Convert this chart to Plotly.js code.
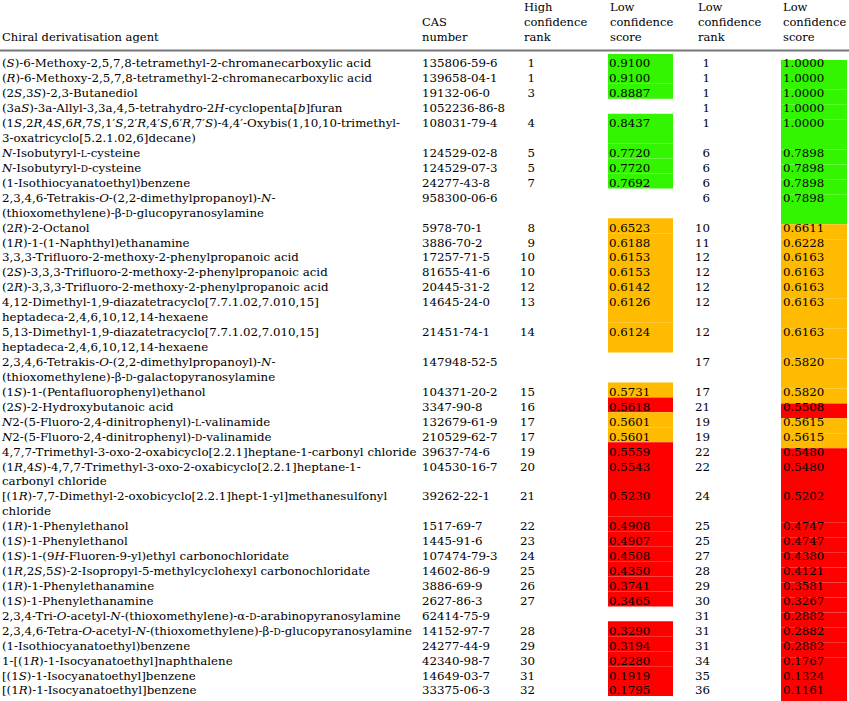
<!DOCTYPE html>
<html lang="en">
<head>
    <meta charset="utf-8">
    <script src="https://cdn.plot.ly/plotly-3.0.1.min.js"></script>
    <title>Chiral derivatisation agents</title>
    <style>
        body { margin: 0; background: #fff; }
        #divTable { width: 849px; height: 701px; }
    </style>
</head>

<body>
    <div id="divTable"></div>
    <script>
        // small caps for L / D
        function sc(s) { return '<span style="font-size:9px">' + s + '</span>'; }

        var headers = ['Chiral derivatisation agent', 'CAS<br>number', 'High<br>confidence<br>rank',
                       'Low<br>confidence<br>score', 'Low<br>confidence<br>rank', 'Low<br>confidence<br>score'];

        var names = [
            '(<i>S</i>)-6-Methoxy-2,5,7,8-tetramethyl-2-chromanecarboxylic acid',
            '(<i>R</i>)-6-Methoxy-2,5,7,8-tetramethyl-2-chromanecarboxylic acid',
            '(2<i>S</i>,3<i>S</i>)-2,3-Butanediol',
            '(3a<i>S</i>)-3a-Allyl-3,3a,4,5-tetrahydro-2<i>H</i>-cyclopenta[<i>b</i>]furan',
            '(1<i>S</i>,2<i>R</i>,4<i>S</i>,6<i>R</i>,7<i>S</i>,1′<i>S</i>,2′<i>R</i>,4′<i>S</i>,6′<i>R</i>,7′<i>S</i>)-4,4′-Oxybis(1,10,10-trimethyl-<br>3-oxatricyclo[5.2.1.02,6]decane)',
            '<i>N</i>-Isobutyryl-' + sc('L') + '-cysteine',
            '<i>N</i>-Isobutyryl-' + sc('D') + '-cysteine',
            '(1-Isothiocyanatoethyl)benzene',
            '2,3,4,6-Tetrakis-<i>O</i>-(2,2-dimethylpropanoyl)-<i>N</i>-<br>(thioxomethylene)-β-' + sc('D') + '-glucopyranosylamine',
            '(2<i>R</i>)-2-Octanol',
            '(1<i>R</i>)-1-(1-Naphthyl)ethanamine',
            '3,3,3-Trifluoro-2-methoxy-2-phenylpropanoic acid',
            '(2<i>S</i>)-3,3,3-Trifluoro-2-methoxy-2-phenylpropanoic acid',
            '(2<i>R</i>)-3,3,3-Trifluoro-2-methoxy-2-phenylpropanoic acid',
            '4,12-Dimethyl-1,9-diazatetracyclo[7.7.1.02,7.010,15]<br>heptadeca-2,4,6,10,12,14-hexaene',
            '5,13-Dimethyl-1,9-diazatetracyclo[7.7.1.02,7.010,15]<br>heptadeca-2,4,6,10,12,14-hexaene',
            '2,3,4,6-Tetrakis-<i>O</i>-(2,2-dimethylpropanoyl)-<i>N</i>-<br>(thioxomethylene)-β-' + sc('D') + '-galactopyranosylamine',
            '(1<i>S</i>)-1-(Pentafluorophenyl)ethanol',
            '(2<i>S</i>)-2-Hydroxybutanoic acid',
            '<i>N</i>2-(5-Fluoro-2,4-dinitrophenyl)-' + sc('L') + '-valinamide',
            '<i>N</i>2-(5-Fluoro-2,4-dinitrophenyl)-' + sc('D') + '-valinamide',
            '4,7,7-Trimethyl-3-oxo-2-oxabicyclo[2.2.1]heptane-1-carbonyl chloride',
            '(1<i>R</i>,4<i>S</i>)-4,7,7-Trimethyl-3-oxo-2-oxabicyclo[2.2.1]heptane-1-<br>carbonyl chloride',
            '[(1<i>R</i>)-7,7-Dimethyl-2-oxobicyclo[2.2.1]hept-1-yl]methanesulfonyl<br>chloride',
            '(1<i>R</i>)-1-Phenylethanol',
            '(1<i>S</i>)-1-Phenylethanol',
            '(1<i>S</i>)-1-(9<i>H</i>-Fluoren-9-yl)ethyl carbonochloridate',
            '(1<i>R</i>,2<i>S</i>,5<i>S</i>)-2-Isopropyl-5-methylcyclohexyl carbonochloridate',
            '(1<i>R</i>)-1-Phenylethanamine',
            '(1<i>S</i>)-1-Phenylethanamine',
            '2,3,4-Tri-<i>O</i>-acetyl-<i>N</i>-(thioxomethylene)-α-' + sc('D') + '-arabinopyranosylamine',
            '2,3,4,6-Tetra-<i>O</i>-acetyl-<i>N</i>-(thioxomethylene)-β-' + sc('D') + '-glucopyranosylamine',
            '(1-Isothiocyanatoethyl)benzene',
            '1-[(1<i>R</i>)-1-Isocyanatoethyl]naphthalene',
            '[(1<i>S</i>)-1-Isocyanatoethyl]benzene',
            '[(1<i>R</i>)-1-Isocyanatoethyl]benzene'
        ];

        var cas = ['135806-59-6', '139658-04-1', '19132-06-0', '1052236-86-8', '108031-79-4',
                   '124529-02-8', '124529-07-3', '24277-43-8', '958300-06-6', '5978-70-1',
                   '3886-70-2', '17257-71-5', '81655-41-6', '20445-31-2', '14645-24-0',
                   '21451-74-1', '147948-52-5', '104371-20-2', '3347-90-8', '132679-61-9',
                   '210529-62-7', '39637-74-6', '104530-16-7', '39262-22-1', '1517-69-7',
                   '1445-91-6', '107474-79-3', '14602-86-9', '3886-69-9', '2627-86-3',
                   '62414-75-9', '14152-97-7', '24277-44-9', '42340-98-7', '14649-03-7', '33375-06-3'];

        var highRank = [1, 1, 3, null, 4, 5, 5, 7, null, 8, 9, 10, 10, 12, 13, 14, null, 15,
                        16, 17, 17, 19, 20, 21, 22, 23, 24, 25, 26, 27, null, 28, 29, 30, 31, 32];
        var highScore = [0.9100, 0.9100, 0.8887, null, 0.8437, 0.7720, 0.7720, 0.7692, null,
                         0.6523, 0.6188, 0.6153, 0.6153, 0.6142, 0.6126, 0.6124, null, 0.5731,
                         0.5618, 0.5601, 0.5601, 0.5559, 0.5543, 0.5230, 0.4908, 0.4907, 0.4508,
                         0.4350, 0.3741, 0.3465, null, 0.3290, 0.3194, 0.2280, 0.1919, 0.1795];
        var highTier = ['g', 'g', 'g', null, 'g', 'g', 'g', 'g', null, 'o', 'o', 'o', 'o', 'o', 'o', 'o', null, 'o',
                        'r', 'o', 'o', 'r', 'r', 'r', 'r', 'r', 'r', 'r', 'r', 'r', null, 'r', 'r', 'r', 'r', 'r'];

        var lowRank = [1, 1, 1, 1, 1, 6, 6, 6, 6, 10, 11, 12, 12, 12, 12, 12, 17, 17,
                       21, 19, 19, 22, 22, 24, 25, 25, 27, 28, 29, 30, 31, 31, 31, 34, 35, 36];
        var lowScore = [1.0000, 1.0000, 1.0000, 1.0000, 1.0000, 0.7898, 0.7898, 0.7898, 0.7898,
                        0.6611, 0.6228, 0.6163, 0.6163, 0.6163, 0.6163, 0.6163, 0.5820, 0.5820,
                        0.5508, 0.5615, 0.5615, 0.5480, 0.5480, 0.5202, 0.4747, 0.4747, 0.4380,
                        0.4121, 0.3581, 0.3267, 0.2882, 0.2882, 0.2882, 0.1767, 0.1324, 0.1161];
        var lowTier = ['g', 'g', 'g', 'g', 'g', 'g', 'g', 'g', 'g', 'o', 'o', 'o', 'o', 'o', 'o', 'o', 'o', 'o',
                       'r', 'o', 'o', 'r', 'r', 'r', 'r', 'r', 'r', 'r', 'r', 'r', 'r', 'r', 'r', 'r', 'r', 'r'];

        var tierColor = {g: '#33f500', o: '#ffbb00', r: '#ff0000'};

        // layout in pixels (axes run 0..849 and 701..0)
        var ROW_TOP = 57;
        var LH = 14.93;
        var colX = {name: 2, cas: 422, hiRank: 535, hiScore: 609, loRank: 710, loScore: 783};
        var headX = [2, 422, 524, 610, 698, 783];
        var fill1 = [608, 673];
        var fill2 = [781, 847];

        var font = {family: 'DejaVu Serif', size: 11.8, color: '#000'};
        var headFont = {family: 'DejaVu Serif', size: 11.5, color: '#000'};

        // flatten rows into text lines
        var nameX = [], nameY = [], nameT = [];
        var rowY = [], rowSpan = [];
        var line = 0;
        for (var i = 0; i < names.length; i++) {
            var parts = names[i].split('<br>');
            rowY.push(ROW_TOP + LH * (line + 0.5));
            rowSpan.push(parts.length);
            for (var j = 0; j < parts.length; j++) {
                nameX.push(colX.name);
                nameY.push(ROW_TOP + LH * (line + j + 0.5));
                nameT.push(parts[j]);
            }
            line += parts.length;
        }

        function fmt(v) { return v == null ? '' : v.toFixed(4); }
        function txt(v) { return v == null ? '' : String(v); }
        function repeat(v) { return rowY.map(function() { return v; }); }

        function fillTrace(scores, tiers, span) {
            var y = [], w = [], c = [], x = [];
            var top = ROW_TOP;
            for (var i = 0; i < scores.length; i++) {
                var h = rowSpan[i] * LH;
                if (tiers[i]) {
                    y.push(top + h / 2);
                    w.push(h);
                    x.push(span[1] - span[0]);
                    c.push(tierColor[tiers[i]]);
                }
                top += h;
            }
            return {
                type: 'bar', orientation: 'h', x: x, y: y, width: w,
                base: span[0], marker: {color: c, line: {width: 0}},
                hoverinfo: 'skip'
            };
        }

        function textTrace(x, y, t, pos, f) {
            return {
                type: 'scatter', mode: 'text', x: x, y: y, text: t,
                textposition: pos, textfont: f || font, hoverinfo: 'skip',
                cliponaxis: false
            };
        }

        var data = [
            fillTrace(highScore, highTier, fill1),
            fillTrace(lowScore, lowTier, fill2),
            textTrace(nameX, nameY, nameT, 'middle right'),
            textTrace(repeat(colX.cas), rowY, cas, 'middle right'),
            textTrace(repeat(colX.hiRank), rowY, highRank.map(txt), 'middle left'),
            textTrace(repeat(colX.hiScore), rowY, highScore.map(fmt), 'middle right'),
            textTrace(repeat(colX.loRank), rowY, lowRank.map(txt), 'middle left'),
            textTrace(repeat(colX.loScore), rowY, lowScore.map(fmt), 'middle right'),
            textTrace(headX, headX.map(function() { return 44; }), headers, 'top right', headFont)
        ];

        var layout = {
            width: 849, height: 701,
            margin: {l: 0, r: 0, t: 0, b: 0},
            showlegend: false,
            paper_bgcolor: '#fff', plot_bgcolor: '#fff',
            xaxis: {range: [0, 849], visible: false, fixedrange: true},
            yaxis: {range: [701, 0], visible: false, fixedrange: true},
            shapes: [{type: 'line', xref: 'paper', yref: 'y', x0: 0, x1: 1, y0: 50.5, y1: 50.5,
                      line: {color: '#777', width: 2}}]
        };

        Plotly.newPlot('divTable', data, layout, {staticPlot: true});
    </script>
</body>
</html>
